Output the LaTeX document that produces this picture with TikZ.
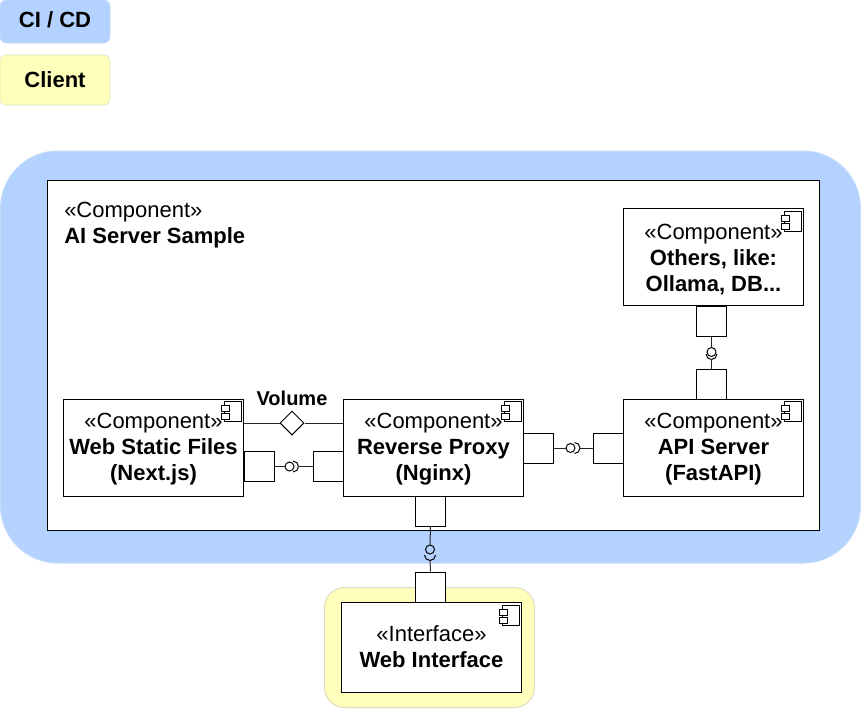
\documentclass[tikz,border=0pt]{standalone}
\usepackage{fontspec}
\setmainfont{Liberation Sans}
\usetikzlibrary{shapes.geometric}
\definecolor{cicd}{HTML}{B3D2FF}
\definecolor{cicdline}{HTML}{C4DBFB}
\definecolor{clientc}{HTML}{FFFFBB}
\definecolor{clientline}{HTML}{DDDDC4}
\newcommand{\dropA}{\rule{0pt}{13.6pt}}
\newcommand{\dropB}{\rule{0pt}{15.1pt}}
\tikzset{
  every node/.style={font=\fontsize{16.5pt}{19.5pt}\selectfont},
  legendbox/.style={draw,minimum width=82.5pt,inner sep=0pt,rounded corners=4.5pt,font=\fontsize{16.5pt}{19.5pt}\selectfont\bfseries},
  compbox/.style={draw=black,fill=white,line width=.75pt,minimum width=135pt,inner sep=0pt,align=center},
  portbox/.style={draw=black,fill=white,line width=.75pt,minimum width=22.5pt,minimum height=22.5pt,inner sep=0pt},
  ballnode/.style={draw=black,circle,line width=.75pt,minimum size=6.75pt,inner sep=0pt},
  wire/.style={black!85,line width=.75pt},
  compicon/.pic={
    \draw[black,fill=white,line width=.6pt] (-20,3) rectangle (-3,23);
    \draw[black,fill=white,line width=.6pt] (-23,7) rectangle (-15,13);
    \draw[black,fill=white,line width=.6pt] (-23,15) rectangle (-15,21);
  }
}
\begin{document}
\begin{tikzpicture}[x=.75pt,y=-.75pt]
\useasboundingbox (0,0) rectangle (861,708);
% legend
\node[legendbox,draw=cicdline,fill=cicd,minimum height=32.25pt] (leg1) at (55,21.5) {CI / CD\rule[-3pt]{0pt}{1pt}};
\node[legendbox,draw=clientline,fill=clientc,minimum height=37.5pt] (leg2) at (55,80) {Client};
% backgrounds
\draw[cicdline,fill=cicd,line width=.75pt,rounded corners=43pt] (0.5,151) rectangle (860.5,563);
\draw[clientline,fill=clientc,line width=.75pt,rounded corners=15pt] (324.5,587.5) rectangle (534.5,707.5);
% outer component
\node[draw=black,fill=white,line width=.75pt,minimum width=579pt,minimum height=262.5pt,inner sep=0pt] (server) at (433.5,355.5) {};
\node[anchor=north west,inner sep=0pt,align=left] (servertext) at (64,202) {«Component»\\\textbf{AI Server Sample}};
% components
\node[compbox,minimum height=72.75pt] (others) at (713.5,257) {\dropB«Component»\\\textbf{Others, like:}\\\textbf{Ollama, DB...}};
\node[compbox,minimum height=72.75pt] (web) at (153.5,447.75) {\dropA«Component»\\\textbf{Web Static Files}\\\textbf{(Next.js)}};
\node[compbox,minimum height=72.75pt] (proxy) at (433.5,447.75) {\dropA«Component»\\\textbf{Reverse Proxy}\\\textbf{(Nginx)}};
\node[compbox,minimum height=72.75pt] (api) at (713.5,447.75) {\dropA«Component»\\\textbf{API Server}\\\textbf{(FastAPI)}};
\node[compbox,minimum height=67.5pt] (iface) at (431.5,647.5) {«Interface»\\\textbf{Web Interface}\rule[-1.5pt]{0pt}{1pt}};
\path (others.north east) pic {compicon};
\path (web.north east) pic {compicon};
\path (proxy.north east) pic {compicon};
\path (api.north east) pic {compicon};
\path (iface.north east) pic {compicon};
% ports
\node[portbox] (pweb) at (259,466.5) {};
\node[portbox] (pproxyl) at (328,466.5) {};
\node[portbox] (pproxyr) at (538.5,448) {};
\node[portbox] (papil) at (608.5,448) {};
\node[portbox] (pothers) at (711.5,321) {};
\node[portbox] (papit) at (711.5,384) {};
\node[portbox] (pproxyb) at (430.5,511) {};
\node[portbox] (pifacet) at (430.5,587) {};
% volume
\node[draw=black,fill=white,diamond,aspect=1,line width=.75pt,minimum size=18pt,inner sep=0pt] (vol) at (292,423) {};
\node[font=\fontsize{15pt}{18pt}\selectfont\bfseries,inner sep=0pt] (vollabel) at (292,398.5) {Volume};
\draw[wire] (vol.west) -- (vol.west -| web.east);
\draw[wire] (vol.east) -- (vol.east -| proxy.west);
% interfaces
\node[ballnode] (b1) at (289.5,466.5) {};
\coordinate (s1) at (298.5,466.5);
\draw[wire] (pweb.east) -- (b1.west);
\draw[wire] (s1) -- (pproxyl.west);
\draw[black,line width=.75pt] (s1) arc[start angle=0,end angle=90,radius=4.1pt];
\draw[black,line width=.75pt] (s1) arc[start angle=0,end angle=-90,radius=4.1pt];
\node[ballnode] (b2) at (570.5,448) {};
\coordinate (s2) at (580,448);
\draw[wire] (pproxyr.east) -- (b2.west);
\draw[wire] (s2) -- (papil.west);
\draw[black,line width=.75pt] (s2) arc[start angle=0,end angle=90,radius=4.1pt];
\draw[black,line width=.75pt] (s2) arc[start angle=0,end angle=-90,radius=4.1pt];
\node[ballnode] (b3) at (711.5,352) {};
\coordinate (s3) at (711.5,359.5);
\draw[wire] (pothers.south) -- (b3.north);
\draw[wire] (s3) -- (papit.north);
\draw[black,line width=.75pt] (s3) arc[start angle=-90,end angle=0,radius=4.1pt];
\draw[black,line width=.75pt] (s3) arc[start angle=-90,end angle=-180,radius=4.1pt];
\node[ballnode] (b4) at (430,549.5) {};
\coordinate (s4) at (430,560.5);
\draw[wire] (pproxyb.south) -- (b4.north);
\draw[wire] (s4) -- (pifacet.north);
\draw[black,line width=.75pt] (s4) arc[start angle=-90,end angle=0,radius=4.1pt];
\draw[black,line width=.75pt] (s4) arc[start angle=-90,end angle=-180,radius=4.1pt];
\end{tikzpicture}
\end{document}
